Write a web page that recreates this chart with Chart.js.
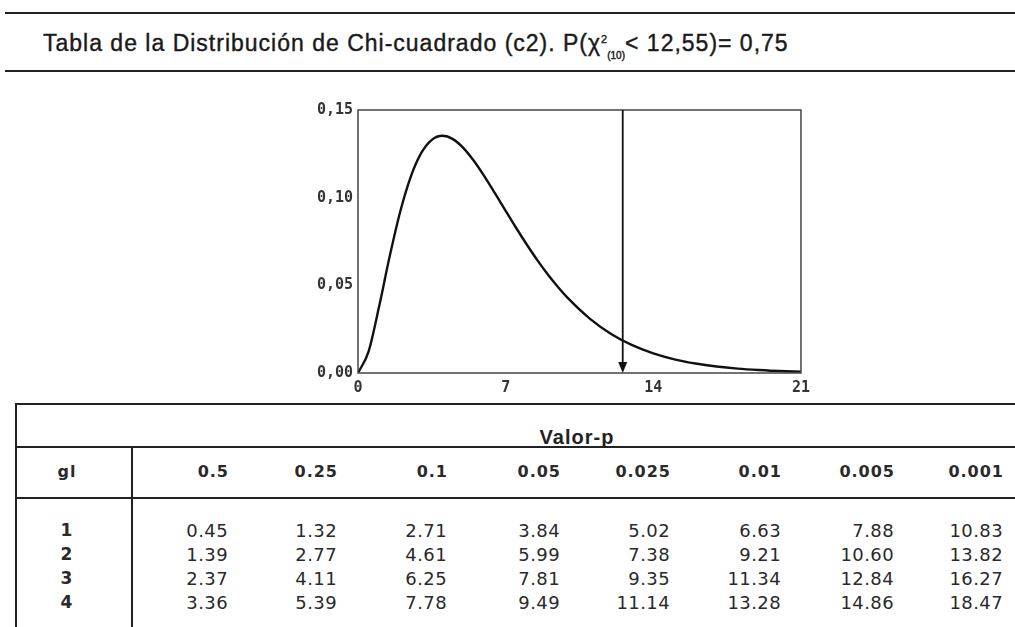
<!DOCTYPE html>
<html>
<head>
<meta charset="utf-8">
<script src="https://cdn.jsdelivr.net/npm/chart.js@4/dist/chart.umd.min.js"></script>
<style>
  html, body { margin:0; padding:0; background:#fff; }
  body { width:1015px; height:627px; position:relative; overflow:hidden; font-family:"Liberation Sans", Arial, sans-serif; color:#1a1a1a; }
  .hl { position:absolute; background:#222; }
  .t { position:absolute; white-space:nowrap; }
  #title { left:43px; top:26px; font-size:23px; letter-spacing:1px; line-height:27px; -webkit-text-stroke:0.4px #1a1a1a; }
  #title sup { font-size:11px; vertical-align:8px; letter-spacing:0; }
  #title sub { font-size:10px; vertical-align:-8px; letter-spacing:0; }
  #chartBox { position:absolute; left:300px; top:96px; width:516px; height:307px; }
</style>
</head>
<body>
<div class="hl" style="left:5px; top:12px; width:1010px; height:2px;"></div>
<div id="title" class="t">Tabla de la Distribución de Chi-cuadrado (c2). P(χ<sup>2</sup><sub>(10)</sub>&lt; 12,55)= 0,75</div>
<div class="hl" style="left:5px; top:70px; width:1010px; height:2px;"></div>

<div id="chartBox"><canvas id="c"></canvas></div>

<div class="hl" style="left:15px; top:403px; width:1000px; height:2px;"></div>
<div class="hl" style="left:15px; top:403px; width:1.5px; height:224px;"></div>
<div class="hl" style="left:15px; top:446px; width:1000px; height:2px;"></div>
<div class="hl" style="left:131px; top:446px; width:1.5px; height:181px;"></div>
<div class="hl" style="left:15px; top:497px; width:1000px; height:2px;"></div>
<div id="tbl"></div>

<script>
// ---- chart data ----
const xValues = [0, 0.5, 1, 1.5, 2, 2.5, 3, 3.5, 4, 4.5, 5, 5.5, 6, 6.5, 7, 7.5, 8, 8.5, 9, 9.5, 10, 11, 12, 13, 14, 15, 16, 17, 18, 19, 20, 21];
const yValues = [0, 0.0122, 0.0379, 0.0664, 0.0920, 0.1119, 0.1255, 0.1330, 0.1353, 0.1334, 0.1283, 0.1209, 0.1120, 0.1024, 0.0925, 0.0827, 0.0733, 0.0644, 0.0562, 0.0488, 0.0421, 0.0309, 0.0223, 0.0159, 0.0112, 0.0078, 0.0054, 0.0037, 0.0025, 0.0017, 0.0011, 0.0008];
const arrowX = 12.55;
const xTicks = [0, 7, 14, 21];
const yTicks = [0, 0.05, 0.10, 0.15];

// ---- table data ----
const tableTitle = "Valor-p";
const glHeader = "gl";
const pValues = ["0.5", "0.25", "0.1", "0.05", "0.025", "0.01", "0.005", "0.001"];
const glRows = ["1", "2", "3", "4"];
const row1 = ["0.45", "1.32", "2.71", "3.84", "5.02", "6.63", "7.88", "10.83"];
const row2 = ["1.39", "2.77", "4.61", "5.99", "7.38", "9.21", "10.60", "13.82"];
const row3 = ["2.37", "4.11", "6.25", "7.81", "9.35", "11.34", "12.84", "16.27"];
const row4 = ["3.36", "5.39", "7.78", "9.49", "11.14", "13.28", "14.86", "18.47"];

// ---- build table text ----
const tbl = document.getElementById('tbl');
function addText(txt, css) {
  const d = document.createElement('div');
  d.className = 't';
  d.textContent = txt;
  Object.assign(d.style, css);
  tbl.appendChild(d);
}
const colRight = [228, 337, 447, 560, 670, 781, 894, 1003];
const headFont = {fontFamily:'"DejaVu Sans"', fontWeight:'bold', fontSize:'16px', letterSpacing:'1px', color:'#2a2a2a'};
const cellFont = {fontFamily:'"DejaVu Sans"', fontSize:'18px', letterSpacing:'0.4px', color:'#2a2a2a'};
addText(tableTitle, {left:'577px', top:'437px', transform:'translate(-50%,-50%)', fontWeight:'bold', fontSize:'20px', letterSpacing:'1px', color:'#222'});
addText(glHeader, Object.assign({left:'67px', top:'471px', transform:'translate(-50%,-50%)'}, headFont));
pValues.forEach((p, i) => addText(p, Object.assign({right:(1015 - colRight[i] - 1) + 'px', top:'471px', transform:'translateY(-50%)'}, headFont)));
const rows = [row1, row2, row3, row4];
const rowY = [530, 554, 578, 602];
glRows.forEach((g, r) => {
  addText(g, Object.assign({left:'67px', top:rowY[r] + 'px', transform:'translate(-50%,-50%)'}, headFont, {fontSize:'17px'}));
  rows[r].forEach((v, i) => addText(v, Object.assign({right:(1015 - colRight[i]) + 'px', top:rowY[r] + 'px', transform:'translateY(-50%)'}, cellFont)));
});

// ---- chart ----
const pts = xValues.map((x, i) => ({x: x, y: yValues[i]}));
const boxAndArrow = {
  id: 'boxAndArrow',
  afterDatasetsDraw(chart) {
    const {ctx, chartArea: a, scales} = chart;
    ctx.save();
    ctx.strokeStyle = '#444';
    ctx.lineWidth = 1.5;
    ctx.strokeRect(a.left, a.top, a.right - a.left, a.bottom - a.top);
    const px = scales.x.getPixelForValue(arrowX);
    const pTop = scales.y.getPixelForValue(yTicks[yTicks.length - 1]);
    const pBot = scales.y.getPixelForValue(0);
    ctx.strokeStyle = '#111';
    ctx.lineWidth = 1.8;
    ctx.beginPath();
    ctx.moveTo(px, pTop);
    ctx.lineTo(px, pBot - 8);
    ctx.stroke();
    ctx.fillStyle = '#111';
    ctx.beginPath();
    ctx.moveTo(px - 4.5, pBot - 11);
    ctx.lineTo(px + 4.5, pBot - 11);
    ctx.lineTo(px, pBot);
    ctx.closePath();
    ctx.fill();
    ctx.restore();
  }
};
new Chart(document.getElementById('c'), {
  type: 'line',
  data: { datasets: [{ data: pts, borderColor: '#111', borderWidth: 2.4, pointRadius: 0, cubicInterpolationMode: 'monotone', fill: false }] },
  options: {
    responsive: true, maintainAspectRatio: false, animation: false,
    layout: { padding: { top: 6, right: 7, left: 0, bottom: 0 } },
    plugins: { legend: { display: false }, tooltip: { enabled: false } },
    scales: {
      x: {
        type: 'linear', min: 0, max: 21,
        afterBuildTicks: s => { s.ticks = xTicks.map(v => ({value: v})); },
        grid: { display: false, drawTicks: false },
        border: { display: false },
        ticks: { color: '#333', font: { family: 'DejaVu Sans Mono', size: 15, weight: 'bold' }, padding: 6, maxRotation: 0 },
        afterFit: s => { s.height = 30; }
      },
      y: {
        min: 0, max: 0.15,
        afterBuildTicks: s => { s.ticks = yTicks.map(v => ({value: v})); },
        grid: { display: false, drawTicks: false },
        border: { display: false },
        ticks: { color: '#333', font: { family: 'DejaVu Sans Mono', size: 15, weight: 'bold' }, padding: 5,
                 callback: v => v.toFixed(2).replace('.', ',') },
        afterFit: s => { s.width = 58; }
      }
    }
  },
  plugins: [boxAndArrow]
});
</script>
</body>
</html>
